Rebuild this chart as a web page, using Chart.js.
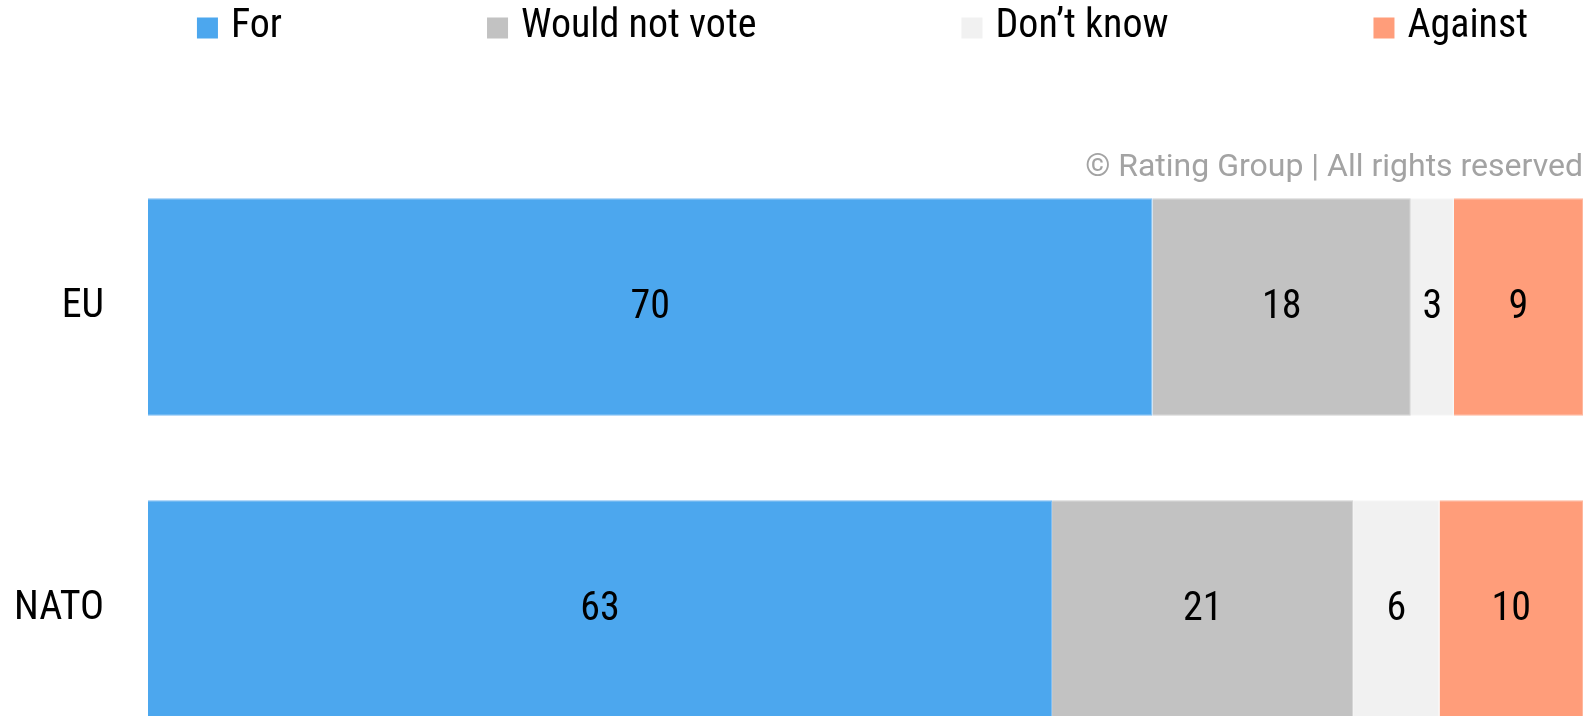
<!DOCTYPE html>
<html>
<head>
<meta charset="utf-8">
<script src="https://cdn.jsdelivr.net/npm/chart.js@4.4.1/dist/chart.umd.min.js"></script>
<style>
    html, body { margin: 0; padding: 0; background: #fff; overflow: hidden; }
    canvas { display: block; }
</style>
</head>
<body>
<canvas id="myChart" width="1586" height="760"></canvas>
<script>
const categories = ['EU', 'NATO'];
const seriesNames = ['For', 'Would not vote', 'Don’t know', 'Against'];
const forValues = [70, 63];
const wouldNotVoteValues = [18, 21];
const dontKnowValues = [3, 6];
const againstValues = [9, 10];

const condensed = "'Roboto Condensed', 'Liberation Sans Narrow', 'DejaVu Sans Condensed', sans-serif";
const fillColors = ['#4ca7ee', '#c2c2c2', '#f1f1f1', '#ff9d7a'];
const edgeColors = ['#7dbcf2', '#d2d2d2', '#f6f6f6', '#ffb89e'];

// numbers in the middle of each segment
const valueLabels = {
    id: 'valueLabels',
    afterDatasetsDraw(chart) {
        const ctx = chart.ctx;
        ctx.save();
        ctx.font = '40px ' + condensed;
        ctx.fillStyle = '#000';
        ctx.textAlign = 'center';
        ctx.textBaseline = 'middle';
        chart.data.datasets.forEach((ds, i) => {
            const meta = chart.getDatasetMeta(i);
            meta.data.forEach((bar, j) => {
                const p = bar.getProps(['x', 'y', 'base'], true);
                ctx.fillText(ds.data[j], (p.x + p.base) / 2, p.y + 1);
            });
        });
        ctx.restore();
    }
};

// wide spaced legend + copyright line
const topLegend = {
    id: 'topLegend',
    afterDraw(chart) {
        const ctx = chart.ctx;
        const area = chart.chartArea;
        const box = 21, textGap = 13, itemGap = 205;
        ctx.save();
        ctx.font = '40px ' + condensed;
        const widths = chart.data.datasets.map(ds => box + textGap + ctx.measureText(ds.label).width);
        const total = widths.reduce((a, b) => a + b, 0) + itemGap * (widths.length - 1);
        let x = (area.left + area.right) / 2 - 3 - total / 2;
        const cy = 27;
        chart.data.datasets.forEach((ds, i) => {
            ctx.fillStyle = ds.backgroundColor;
            ctx.fillRect(x, cy - box / 2 + 1, box, box);
            ctx.fillStyle = '#000';
            ctx.textAlign = 'left';
            ctx.textBaseline = 'middle';
            ctx.fillText(ds.label, x + box + textGap, cy);
            x += widths[i] + itemGap;
        });

        ctx.font = '32px Roboto';
        ctx.fillStyle = '#a3a3a3';
        ctx.textAlign = 'right';
        ctx.textBaseline = 'alphabetic';
        ctx.fillText('© Rating Group | All rights reserved', 1583, 176);
        ctx.restore();
    }
};

const seriesValues = [forValues, wouldNotVoteValues, dontKnowValues, againstValues];

const ctx = document.getElementById('myChart').getContext('2d');
const myChart = new Chart(ctx, {
    type: 'bar',
    data: {
        labels: categories,
        datasets: seriesNames.map((name, i) => ({
            label: name,
            data: seriesValues[i],
            backgroundColor: fillColors[i],
            borderColor: edgeColors[i],
            borderWidth: 1,
            barPercentage: 0.72,
            categoryPercentage: 1
        }))
    },
    options: {
        indexAxis: 'y',
        responsive: false,
        animation: false,
        layout: {
            padding: { top: 156, right: 3, bottom: 0, left: 0 }
        },
        plugins: {
            legend: { display: false },
            tooltip: { enabled: false }
        },
        scales: {
            x: {
                stacked: true,
                min: 0,
                max: 100,
                display: false
            },
            y: {
                stacked: true,
                grid: { display: false, drawTicks: false },
                border: { display: false },
                ticks: {
                    padding: 44,
                    color: '#000',
                    font: { family: condensed, size: 40 }
                },
                afterFit(scale) {
                    scale.width = 148;
                    // labels sit inside the bands, no extra room needed
                    scale.paddingTop = 0;
                    scale.paddingBottom = 0;
                }
            }
        }
    },
    plugins: [valueLabels, topLegend]
});
</script>
</body>
</html>
